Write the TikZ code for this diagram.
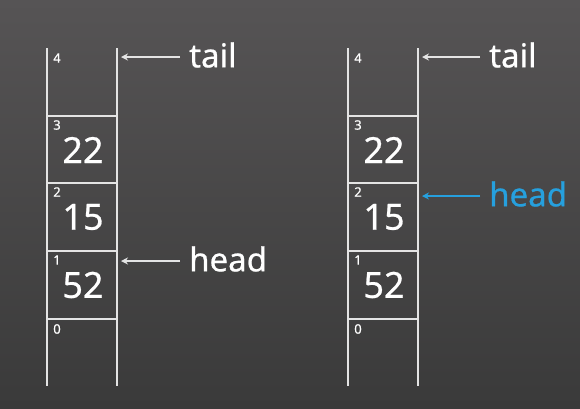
\documentclass[tikz,border=0pt]{standalone}
\usepackage{fontspec}
\setmainfont{Noto Sans}[FakeBold=0.6]
\usetikzlibrary{arrows.meta}
\definecolor{bgtop}{RGB}{86,84,85}
\definecolor{bgbot}{RGB}{58,58,58}
\definecolor{linec}{RGB}{228,228,228}
\definecolor{headblue}{RGB}{38,160,222}
\tikzset{
  stackline/.style={draw=linec, line width=1.6pt},
  idx/.style={text=white, font=\fontsize{13}{15}\selectfont, inner sep=0pt},
  val/.style={text=white, font=\fontsize{36}{40}\selectfont, inner sep=0pt},
  lbl/.style={text=white, font=\fontsize{33}{38}\selectfont, inner sep=0pt, anchor=west},
  ptr/.style={draw=linec, line width=1.3pt, -{Stealth[length=7pt,width=7pt]}},
}
\begin{document}
\begin{tikzpicture}[x=1pt,y=-1pt]
\shade[top color=bgtop, bottom color=bgbot] (0,0) rectangle (580,408);
\useasboundingbox (0,0) rectangle (580,408);
\foreach \ox/\nm in {0/L,301/R}{
  \draw[stackline] (47+\ox,48) -- (47+\ox,386);
  \draw[stackline] (117+\ox,48) -- (117+\ox,386);
  \foreach \yy in {116,183,251,319}{
    \draw[stackline] (47+\ox,\yy) -- (117+\ox,\yy);
  }
  \node[idx] (\nm i4) at (57+\ox,58) {4};
  \node[idx] (\nm i3) at (57+\ox,125) {3};
  \node[idx] (\nm i2) at (57+\ox,192) {2};
  \node[idx] (\nm i1) at (57+\ox,260) {1};
  \node[idx] (\nm i0) at (57+\ox,329) {0};
  \node[val] (\nm v3) at (83+\ox,150) {22};
  \node[val] (\nm v2) at (83+\ox,217) {15};
  \node[val] (\nm v1) at (83+\ox,285) {52};
  \coordinate (\nm tailtip) at (121+\ox,57);
}
\coordinate (Lheadtip) at (121,261);
\coordinate (Rheadtip) at (422,196);
\node[lbl] (Ltail) at (189,55) {tail};
\node[lbl] (Lhead) at (189,259) {head};
\node[lbl] (Rtail) at (489,55) {tail};
\node[lbl, text=headblue] (Rhead) at (489,194) {head};
\draw[ptr] (Ltail.west |- Ltailtip) ++(-9,0) -- (Ltailtip);
\draw[ptr] (Lhead.west |- Lheadtip) ++(-9,0) -- (Lheadtip);
\draw[ptr] (Rtail.west |- Rtailtip) ++(-9,0) -- (Rtailtip);
\draw[ptr, draw=headblue, fill=headblue] (Rhead.west |- Rheadtip) ++(-9,0) -- (Rheadtip);
\end{tikzpicture}
\end{document}
